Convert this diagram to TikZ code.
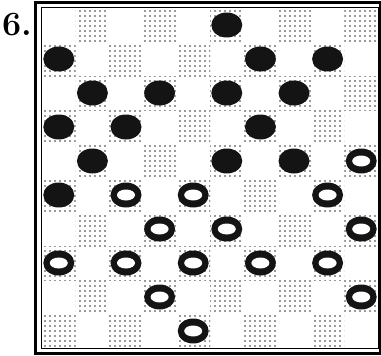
\documentclass[tikz,border=0pt]{standalone}
\usetikzlibrary{patterns.meta}
\begin{document}
\begin{tikzpicture}[x=1pt,y=-1pt,
    darksq/.style={pattern={Dots[distance=5pt,radius=0.85pt]},pattern color=black!80},
    blackman/.style={fill=black!92},
    whitehole/.style={fill=white}]
  \useasboundingbox (0,0) rectangle (381,356);
  % dotted squares
  \foreach \r in {0,...,9} {
    \foreach \c in {0,...,9} {
      \pgfmathparse{int(mod(\r+\c,2))}
      \ifnum\pgfmathresult=1
        \fill[darksq] (42+33.6*\c,8+34*\r) rectangle ++(33.6,34);
      \fi
    }
  }
  % frame
  \draw[line width=3pt] (35.5,2.5) rectangle (380,353.5);
  \draw[line width=0.8pt] (41,7.5) rectangle (378,348.5);
  % black men
  \foreach \c/\r in {5/0,0/1,6/1,8/1,1/2,3/2,5/2,7/2,0/3,2/3,6/3,1/4,5/4,7/4,0/5}
    \fill[blackman] (42+33.6*\c+16.8,8+34*\r+17) ellipse (15.5 and 12.5);
  % white men
  \foreach \c/\r in {9/4,2/5,4/5,8/5,3/6,5/6,9/6,0/7,2/7,4/7,6/7,8/7,3/8,9/8,4/9} {
    \fill[blackman] (42+33.6*\c+16.8,8+34*\r+17) ellipse (15.5 and 12.5);
    \fill[whitehole] (42+33.6*\c+16.8,8+34*\r+17) ellipse (9 and 5.5);
  }
  \node[font=\fontsize{34}{34}\selectfont\bfseries] (number) at (17,25) {6.};
\end{tikzpicture}
\end{document}
